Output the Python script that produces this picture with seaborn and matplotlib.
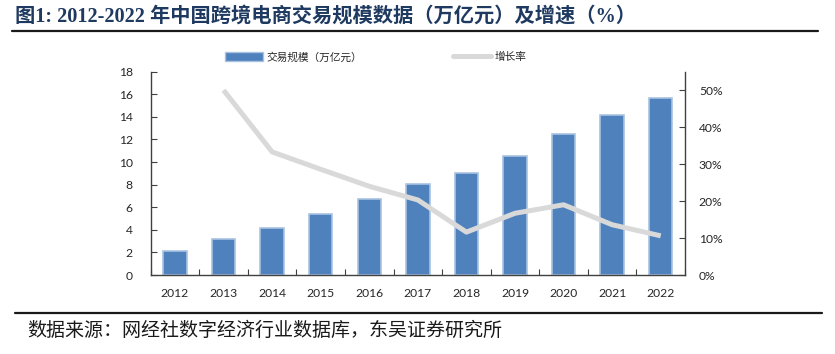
import matplotlib
matplotlib.use("Agg")
import matplotlib.pyplot as plt
import seaborn as sns
import pandas as pd
import numpy as np
from matplotlib.lines import Line2D
from matplotlib.patches import Patch

years = ["2012", "2013", "2014", "2015", "2016", "2017", "2018", "2019", "2020", "2021", "2022"]
scale = [2.1, 3.15, 4.2, 5.4, 6.7, 8.06, 9.0, 10.5, 12.5, 14.2, 15.7]
growth = [np.nan, 0.50, 0.333, 0.286, 0.24, 0.203, 0.116, 0.167, 0.19, 0.136, 0.106]
left_ticks = [0, 2, 4, 6, 8, 10, 12, 14, 16, 18]
right_ticks = [0, 0.1, 0.2, 0.3, 0.4, 0.5]
right_labels = ["0%", "10%", "20%", "30%", "40%", "50%"]

title = "图1: 2012-2022 年中国跨境电商交易规模数据（万亿元）及增速（%）"
source = "数据来源：网经社数字经济行业数据库，东吴证券研究所"
bar_label = "交易规模（万亿元）"
line_label = "增长率"

df = pd.DataFrame({"year": years, "scale": scale, "growth": growth})
df["pos"] = np.arange(len(df))

sns.set_theme(style="white")
plt.rcParams["font.family"] = ["Lato", "Noto Sans CJK SC", "DejaVu Sans"]

W, H = 835, 354
fig = plt.figure(figsize=(W / 100, H / 100), dpi=100)
ax = fig.add_axes([150.7 / W, 1 - 275 / H, (685 - 150.7) / W, (275 - 71.7) / H])

bar_color = "#4F81BD"
sns.barplot(data=df, x="year", y="scale", ax=ax, color=bar_color, saturation=1,
            width=0.48, edgecolor="#A9C2E0", linewidth=1.2, zorder=2)
ax.set_xlim(-0.5, len(years) - 0.5)
ax.set_ylim(0, 18)
ax.set_yticks(left_ticks)
ax.set_yticklabels([str(t) for t in left_ticks])
ax.set_xlabel("")
ax.set_ylabel("")

ax2 = ax.twinx()
sns.lineplot(data=df, x="pos", y="growth", ax=ax2, color="#D9D9D9", linewidth=3.6,
             solid_capstyle="butt", zorder=3)
ax2.set_ylim(0, 0.55)
ax2.set_yticks(right_ticks)
ax2.set_yticklabels(right_labels)
ax2.set_xlim(-0.5, len(years) - 0.5)
ax2.set_xlabel("")
ax2.set_ylabel("")

spine_color = "#404040"
for a in (ax, ax2):
    a.spines["top"].set_visible(False)
    for s in ("left", "right", "bottom"):
        a.spines[s].set_color(spine_color)
        a.spines[s].set_linewidth(1.0)
ax.spines["right"].set_visible(False)
ax2.spines["left"].set_visible(False)
ax2.spines["bottom"].set_visible(False)

# x ticks: labels at centres, tick marks between categories
ax.set_xticks(np.arange(len(years)))
ax.set_xticklabels(years)
ax.set_xticks(np.arange(len(years) + 1) - 0.5, minor=True)
ax.tick_params(axis="x", which="major", length=0, pad=9.5, labelsize=8.7, colors="#262626")
ax.tick_params(axis="x", which="minor", direction="in", length=4, width=0.8, color=spine_color, bottom=True)
ax.tick_params(axis="y", direction="in", length=4, width=0.8, color=spine_color, pad=13,
               labelsize=8.7, labelcolor="#262626", left=True)
ax2.tick_params(axis="y", direction="in", length=4, width=0.8, color=spine_color, pad=10,
                labelsize=8.7, labelcolor="#262626", right=True)

# legend
handles = [Patch(facecolor=bar_color, edgecolor="#A9C2E0", label=bar_label),
           Line2D([0], [0], color="#D9D9D9", linewidth=3.6, label=line_label)]
fig.legend(handles=handles, loc="center", bbox_to_anchor=(376 / W, 1 - 57 / H), ncol=2,
           frameon=False, handlelength=3.5, handleheight=0.9, handletextpad=0.4,
           columnspacing=8.5, prop={"family": ["Noto Sans CJK SC"], "size": 7.7})

# title, rules, source
fig.text(15 / W, 1 - 17 / H, title, ha="left", va="center", fontsize=14.6, fontweight="bold",
         color="#1F3A60", family=["Liberation Serif", "Noto Sans CJK SC", "DejaVu Sans"])
fig.add_artist(Line2D([12 / W, 818 / W], [1 - 31 / H, 1 - 31 / H], color="#1a1a1a", linewidth=1.6))
fig.add_artist(Line2D([15 / W, 822 / W], [1 - 313 / H, 1 - 313 / H], color="#1a1a1a", linewidth=1.6))
fig.text(27 / W, 1 - 330 / H, source, ha="left", va="center", fontsize=13.7, color="#1a1a1a",
         family=["Noto Sans CJK SC", "DejaVu Sans"])

fig.savefig("out.png", dpi=100)
